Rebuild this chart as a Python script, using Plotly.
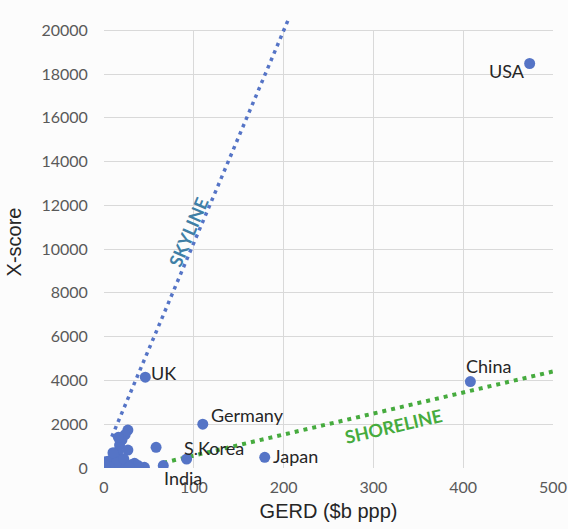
import plotly.graph_objects as go

# ---- data ----
countries = ["USA", "China", "Japan", "Germany", "S.Korea", "India", "UK"]
country_gerd = [474, 408, 179, 110, 92, 66, 46]
country_xscore = [18480, 3950, 490, 2000, 410, 110, 4150]

other_gerd = [26.6, 23.5, 20, 17.3, 26.6, 15.4, 11.7, 8, 4.3, 0.6, 11.7, 19,
              34, 45, 58, 2, 5, 8, 3, 14, 22, 30, 38, 10, 16, 6, 1, 28]
other_xscore = [1735, 1520, 1280, 1050, 820, 745, 515, 365, 215, 60, 0, 137,
                215, 30, 945, 20, 100, 30, 300, 250, 420, 150, 110, 700, 1400, 40, 130, 40]

skyline_x = [8.7, 206]
skyline_y = [1430, 20560]
shoreline_x = [66, 500]
shoreline_y = [240, 4410]

x_ticks = [0, 100, 200, 300, 400, 500]
y_ticks = list(range(0, 20001, 2000))

# ---- styling ----
BLUE = "#5574c6"
GREEN = "#46ab3e"
BG = "#fcfcfc"
GRID = "#d9d9d9"
TICKFONT = dict(family="Lato", size=16, color="#595959")
LABELFONT = dict(family="Lato", size=18, color="#262626")
TITLEFONT = dict(family="Liberation Sans", size=20, color="#262626")

fig = go.Figure()

fig.add_trace(go.Scatter(x=skyline_x, y=skyline_y, mode="lines",
                         line=dict(color=BLUE, width=3.5, dash="3.5px,4.5px"),
                         hoverinfo="skip", showlegend=False))
fig.add_trace(go.Scatter(x=shoreline_x, y=shoreline_y, mode="lines",
                         line=dict(color=GREEN, width=4, dash="4px,5px"),
                         hoverinfo="skip", showlegend=False))
fig.add_trace(go.Scatter(x=other_gerd, y=other_xscore, mode="markers",
                         marker=dict(color=BLUE, size=11), showlegend=False))
fig.add_trace(go.Scatter(x=country_gerd, y=country_xscore, mode="markers",
                         marker=dict(color=BLUE, size=11), text=countries,
                         showlegend=False))

# country labels (anchor, xshift, yshift)
label_pos = {
    "USA": ("right", "middle", -3, -7),
    "China": ("left", "middle", -6, 16),
    "Japan": ("left", "middle", 6, 1),
    "Germany": ("left", "middle", 6, 9),
    "S.Korea": ("left", "middle", -5, 11),
    "India": ("left", "middle", -1, -12),
    "UK": ("left", "middle", 4, 4),
}
for name, gx, gy in zip(countries, country_gerd, country_xscore):
    xa, ya, dx, dy = label_pos[name]
    fig.add_annotation(x=gx, y=gy, text=name, showarrow=False, xanchor=xa,
                       yanchor=ya, xshift=dx, yshift=dy, font=LABELFONT)

fig.add_annotation(x=94, y=10780, text="SKYLINE", showarrow=False, textangle=-67,
                   font=dict(family="Lato", size=18, color="#3f7fa6", weight="bold"))
fig.add_annotation(x=322, y=1918, text="SHORELINE", showarrow=False, textangle=-13,
                   font=dict(family="Lato", size=18, color=GREEN, weight="bold"))

# hide gridlines above the top tick (skyline pokes above the 20000 line)
fig.add_shape(type="rect", xref="x", yref="y", x0=-10, x1=510, y0=y_ticks[-1] + 15,
              y1=22000, fillcolor=BG, line=dict(width=0), layer="between")

fig.update_layout(
    width=568, height=529,
    margin=dict(l=104, r=15, t=16, b=61, autoexpand=False),
    paper_bgcolor=BG, plot_bgcolor=BG,
    showlegend=False,
)
fig.update_xaxes(range=[0, 500], tickvals=x_ticks, showgrid=True, gridcolor=GRID,
                 gridwidth=1, zeroline=False, showline=False, ticks="outside",
                 ticklen=5, tickcolor="rgba(0,0,0,0)", tickfont=TICKFONT,
                 automargin=False,
                 title=dict(text="GERD ($b ppp)", font=TITLEFONT, standoff=8))
fig.update_yaxes(range=[0, 20650], tickvals=y_ticks, tickformat="d", showgrid=True,
                 gridcolor=GRID, gridwidth=1, zeroline=False, showline=False,
                 ticks="outside", ticklen=12, tickcolor="rgba(0,0,0,0)",
                 tickfont=TICKFONT, automargin=False,
                 title=dict(text="X-score", font=TITLEFONT, standoff=14))

# remove the default page margin so the figure fills the window exactly
fig.write_html("out.html",
               config={"displayModeBar": False},
               post_script="document.body.style.margin='0';"
                           "document.body.style.overflow='hidden';")
